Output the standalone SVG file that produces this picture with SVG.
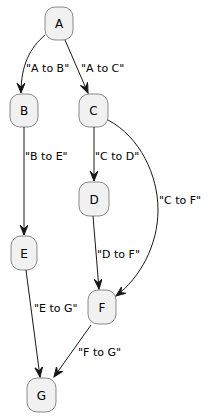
<svg xmlns="http://www.w3.org/2000/svg" width="208" height="417" viewBox="0 0 208 417">
<style>
.node rect{fill:#F1F1F1;stroke:#181818;stroke-width:0.5}
.node text{font-family:"DejaVu Sans",sans-serif;font-size:12px;fill:#000;text-anchor:middle}
.edges path{fill:none;stroke:#181818;stroke-width:1}
.lbl{font-family:"DejaVu Sans",sans-serif;font-size:11px;fill:#000}
</style>
<defs>
<marker id="ah" markerUnits="userSpaceOnUse" markerWidth="11" markerHeight="9" refX="10" refY="4" orient="auto" viewBox="0 0 11 9">
<path d="M0,0 L10,4 L0,8 L4,4 Z" fill="#181818" stroke="#181818" stroke-width="1"/>
</marker>
</defs>
<g class="edges">
<path d="M45,35 C30,48 21,65 21,93" marker-end="url(#ah)"/>
<path d="M65,40 L88,93" marker-end="url(#ah)"/>
<path d="M24,127 L24,235" marker-end="url(#ah)"/>
<path d="M94,127 L94,181" marker-end="url(#ah)"/>
<path d="M108,120 C140,137 158,175 158,210 C158,245 140,278 116,296" marker-end="url(#ah)"/>
<path d="M93,216 L99,289" marker-end="url(#ah)"/>
<path d="M26,270 L40,377" marker-end="url(#ah)"/>
<path d="M91,325 L54,377" marker-end="url(#ah)"/>
<text class="lbl" x="26" y="72">"A to B"</text>
<text class="lbl" x="81" y="72">"A to C"</text>
<text class="lbl" x="25" y="160">"B to E"</text>
<text class="lbl" x="95" y="160">"C to D"</text>
<text class="lbl" x="159" y="204">"C to F"</text>
<text class="lbl" x="97" y="258">"D to F"</text>
<text class="lbl" x="34" y="312">"E to G"</text>
<text class="lbl" x="78" y="356">"F to G"</text>
</g>
<g id="A" class="node"><rect x="45" y="7" width="28" height="33" rx="10"/><text x="59" y="28">A</text></g>
<g id="B" class="node"><rect x="10" y="94" width="28" height="33" rx="10"/><text x="24" y="115">B</text></g>
<g id="C" class="node"><rect x="79" y="94" width="29" height="33" rx="10"/><text x="93.5" y="115">C</text></g>
<g id="D" class="node"><rect x="79" y="182" width="30" height="34" rx="10"/><text x="94" y="204">D</text></g>
<g id="E" class="node"><rect x="11" y="236" width="26" height="34" rx="10"/><text x="24" y="258">E</text></g>
<g id="F" class="node"><rect x="88" y="290" width="28" height="34" rx="10"/><text x="102" y="312">F</text></g>
<g id="G" class="node"><rect x="27" y="378" width="29" height="34" rx="10"/><text x="41.5" y="400">G</text></g>
</svg>
